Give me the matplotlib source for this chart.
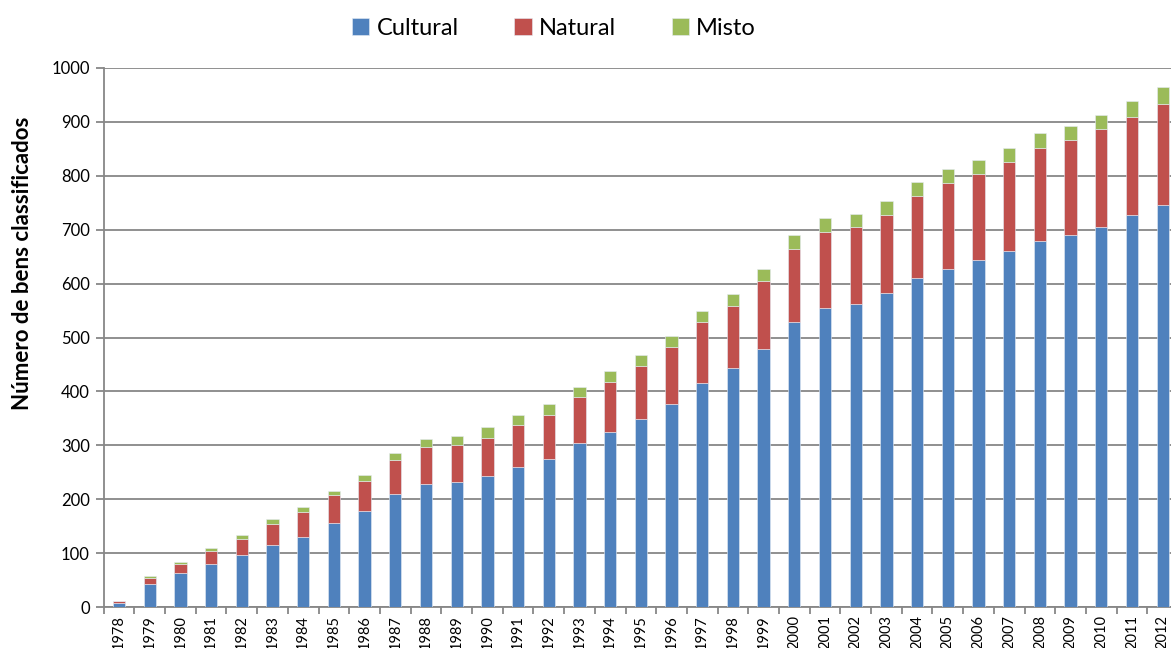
import matplotlib.pyplot as plt
import numpy as np

years = [str(y) for y in range(1978, 2013)]
cultural = [8, 42, 64, 79, 96, 115, 130, 155, 178, 210, 228, 232, 243, 259, 275,
            304, 325, 348, 377, 415, 443, 478, 529, 554, 563, 582, 611, 628, 644,
            660, 679, 690, 705, 727, 746]
natural = [4, 12, 16, 25, 31, 39, 47, 52, 56, 62, 68, 69, 71, 78, 82,
           85, 93, 99, 106, 113, 115, 126, 136, 142, 142, 146, 151, 159, 160,
           166, 173, 176, 181, 183, 188]
misto = [0, 3, 4, 6, 7, 9, 8, 8, 10, 13, 15, 16, 20, 19, 19,
         19, 20, 20, 20, 22, 22, 23, 25, 25, 25, 25, 27, 25, 25,
         26, 27, 26, 27, 28, 30]

colors = {"Cultural": "#4f81bd", "Natural": "#c0504d", "Misto": "#9bbb59"}
grid_color = "#878787"

plt.rcParams["font.family"] = ["Lato", "DejaVu Sans"]

fig = plt.figure(figsize=(11.71, 6.48), dpi=100)
# axes run a little past the right edge of the figure
ax = fig.add_axes([103.7 / 1171, 1 - 607 / 648, (1178 - 103.7) / 1171, (607 - 68) / 648])

x = np.arange(len(years))
c = np.array(cultural)
n = np.array(natural)
m = np.array(misto)
width = 0.4
edge = dict(edgecolor="#e6ecf5", linewidth=0.4)
ax.bar(x, c, width, color=colors["Cultural"], label="Cultural", **edge, zorder=3)
ax.bar(x, n, width, bottom=c, color=colors["Natural"], label="Natural", **edge, zorder=3)
ax.bar(x, m, width, bottom=c + n, color=colors["Misto"], label="Misto", **edge, zorder=3)

ax.set_xlim(-0.5, len(years) - 0.5)
ax.set_ylim(0, 1000)
ax.set_yticks(np.arange(0, 1001, 100))
ax.yaxis.grid(True, color=grid_color, linewidth=1.3, zorder=0)
ax.set_axisbelow(True)

ax.set_xticks(x)
ax.set_xticklabels(years, rotation=90, fontsize=10.5)
ax.set_xticks(np.arange(-0.5, len(years), 1), minor=True)
ax.tick_params(axis="x", which="major", length=0, pad=6)
ax.tick_params(axis="x", which="minor", length=5, width=1.3, color=grid_color)
ax.tick_params(axis="y", length=6, width=1.3, color=grid_color, labelsize=12, pad=4)

for side in ("top", "right"):
    ax.spines[side].set_visible(False)
for side in ("left", "bottom"):
    ax.spines[side].set_color(grid_color)
    ax.spines[side].set_linewidth(1.3)

ax.set_ylabel("Número de bens classificados", fontsize=16, fontweight="bold")
ax.yaxis.set_label_coords(-0.066, 0.638)

fig.legend(loc="upper center", bbox_to_anchor=(0.473, 1.005), ncol=3, frameon=False,
           fontsize=17, handlelength=0.75, handleheight=0.75, handletextpad=0.3,
           columnspacing=2.35)

fig.savefig("out.png", dpi=100)
